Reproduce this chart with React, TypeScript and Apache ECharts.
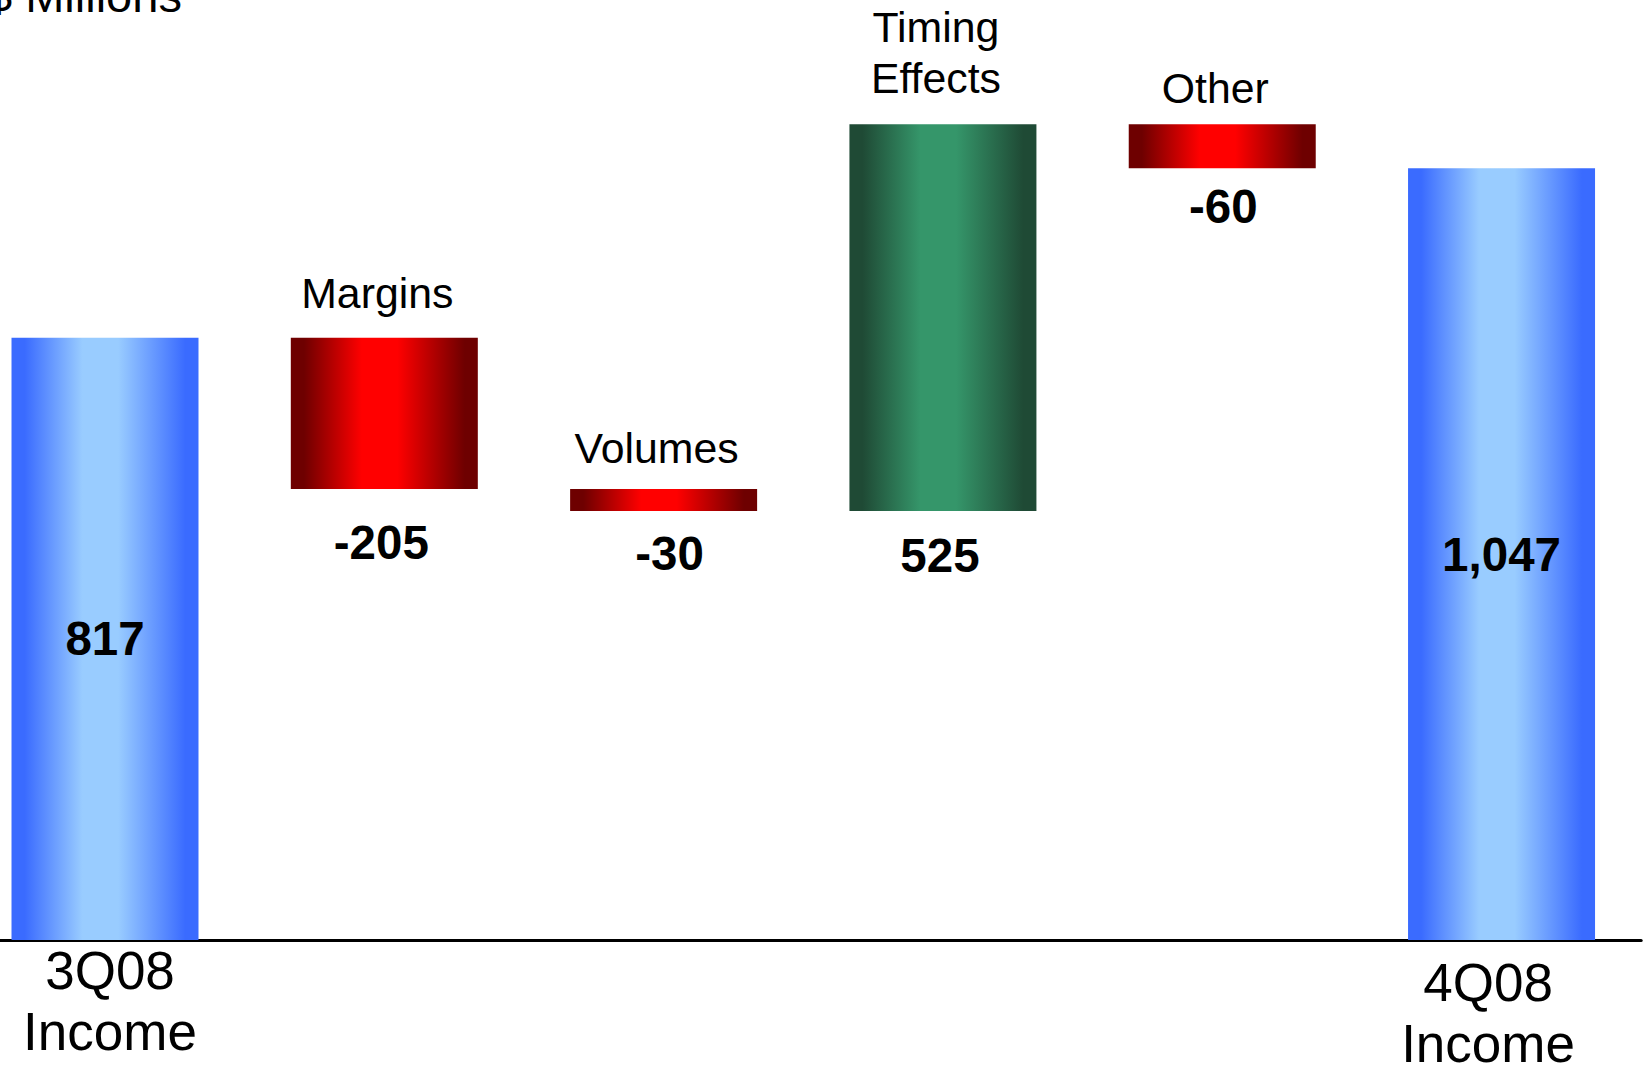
import React, { useEffect, useRef } from 'react';
import * as echarts from 'echarts';

const categories = ['3Q08\nIncome', 'Margins', 'Volumes', 'Timing\nEffects', 'Other', '4Q08\nIncome'];
const changes = [817, -205, -30, 525, -60, 1047];
const kinds = ['total', 'delta', 'delta', 'delta', 'delta', 'total'];
const unitTitle = '$ Millions';

// per-bar label spacing (layout only)
const nameGap = [0, 19, 15, 21, 11, 0];
const valueGap = [0, 30, 18.5, 20.5, 15, 0];
const valueShiftX = [0, -3, 6, -3, 1, 0];

const FONT = '"Liberation Sans", Arial, sans-serif';
const SHIFT = 40;

function grad(edge: string, mid: string) {
  return new echarts.graphic.LinearGradient(0, 0, 1, 0, [
    { offset: 0, color: edge },
    { offset: 0.07, color: edge },
    { offset: 0.38, color: mid },
    { offset: 0.57, color: mid },
    { offset: 0.93, color: edge },
    { offset: 1, color: edge },
  ]);
}

function fmt(v: number) {
  return v.toLocaleString('en-US');
}

export default function App() {
  const ref = useRef<HTMLDivElement>(null);
  useEffect(() => {
    if (!ref.current) return;
    const chart = echarts.init(ref.current, undefined, { renderer: 'svg' });

    const bases: number[] = [];
    const heights: number[] = [];
    let running = 0;
    changes.forEach((v, i) => {
      if (kinds[i] === 'total') {
        bases.push(0);
        heights.push(v);
        running = v;
      } else if (v < 0) {
        bases.push(running + v);
        heights.push(-v);
        running += v;
      } else {
        bases.push(running);
        heights.push(v);
        running += v;
      }
    });

    const blue = () => grad('#3A6BFF', '#99CCFF');
    const red = () => grad('#6E0000', '#FF0000');
    const green = () => grad('#1F4A35', '#35966A');

    const visibleData = heights.map((h, i) => {
      const isTotal = kinds[i] === 'total';
      const color = isTotal ? blue() : changes[i] < 0 ? red() : green();
      return {
        value: h,
        itemStyle: { color },
        label: isTotal
          ? {
              show: true,
              position: 'inside',
              formatter: fmt(changes[i]),
              fontSize: 47.5,
              fontWeight: 'bold',
              color: '#000',
              fontFamily: FONT,
            }
          : {
              show: true,
              position: 'top',
              distance: nameGap[i],
              offset: [-7, 0],
              formatter: categories[i],
              fontSize: 42.8,
              lineHeight: 51,
              color: '#000',
              fontFamily: FONT,
            },
      };
    });

    const baseData = bases.map((b, i) => {
      const isTotal = kinds[i] === 'total';
      return {
        value: b,
        label: isTotal
          ? { show: false }
          : {
              show: true,
              position: 'insideTop',
              distance: valueGap[i],
              offset: [valueShiftX[i], 0],
              formatter: fmt(changes[i]),
              fontSize: 47.5,
              lineHeight: 47,
              fontWeight: 'bold',
              color: '#000',
              fontFamily: FONT,
            },
      };
    });

    const xData = categories.map((c, i) => {
      const item: any = { value: c };
      if (i === 0) item.textStyle = { padding: [0, 0, 0, 10] };
      if (i === categories.length - 1) item.textStyle = { padding: [12, 27, 0, 0] };
      return item;
    });

    chart.setOption({
      animation: false,
      backgroundColor: '#ffffff',
      title: {
        text: unitTitle,
        left: -14 + SHIFT,
        top: -28,
        padding: 0,
        textStyle: {
          fontSize: 47,
          lineHeight: 47,
          fontWeight: 'normal',
          color: '#000',
          fontFamily: FONT,
        },
      },
      grid: {
        left: SHIFT - 34.65,
        right: 9.8,
        top: 55.6,
        bottom: 125,
        containLabel: false,
        outerBoundsMode: 'none',
      },
      xAxis: {
        type: 'category',
        data: xData,
        axisLine: { show: true, lineStyle: { color: '#000', width: 3 } },
        axisTick: { show: false },
        axisLabel: {
          interval: 0,
          margin: 0,
          fontSize: 53,
          lineHeight: 61,
          color: '#000',
          fontFamily: FONT,
          formatter: (v: string, i: number) => (kinds[i] === 'total' ? v : ''),
        },
      },
      yAxis: {
        type: 'value',
        min: 0,
        max: 1200,
        show: false,
        splitLine: { show: false },
      },
      series: [
        {
          name: 'base',
          type: 'bar',
          stack: 'w',
          barWidth: 187,
          itemStyle: { color: 'rgba(0,0,0,0)' },
          data: baseData,
          silent: true,
        },
        {
          name: 'change',
          type: 'bar',
          stack: 'w',
          barWidth: 187,
          data: visibleData,
        },
      ],
    });
    return () => chart.dispose();
  }, []);
  return (
    <div
      ref={ref}
      style={{ position: 'absolute', left: -SHIFT, top: 0, width: 1651 + SHIFT, height: 1065 }}
    />
  );
}
